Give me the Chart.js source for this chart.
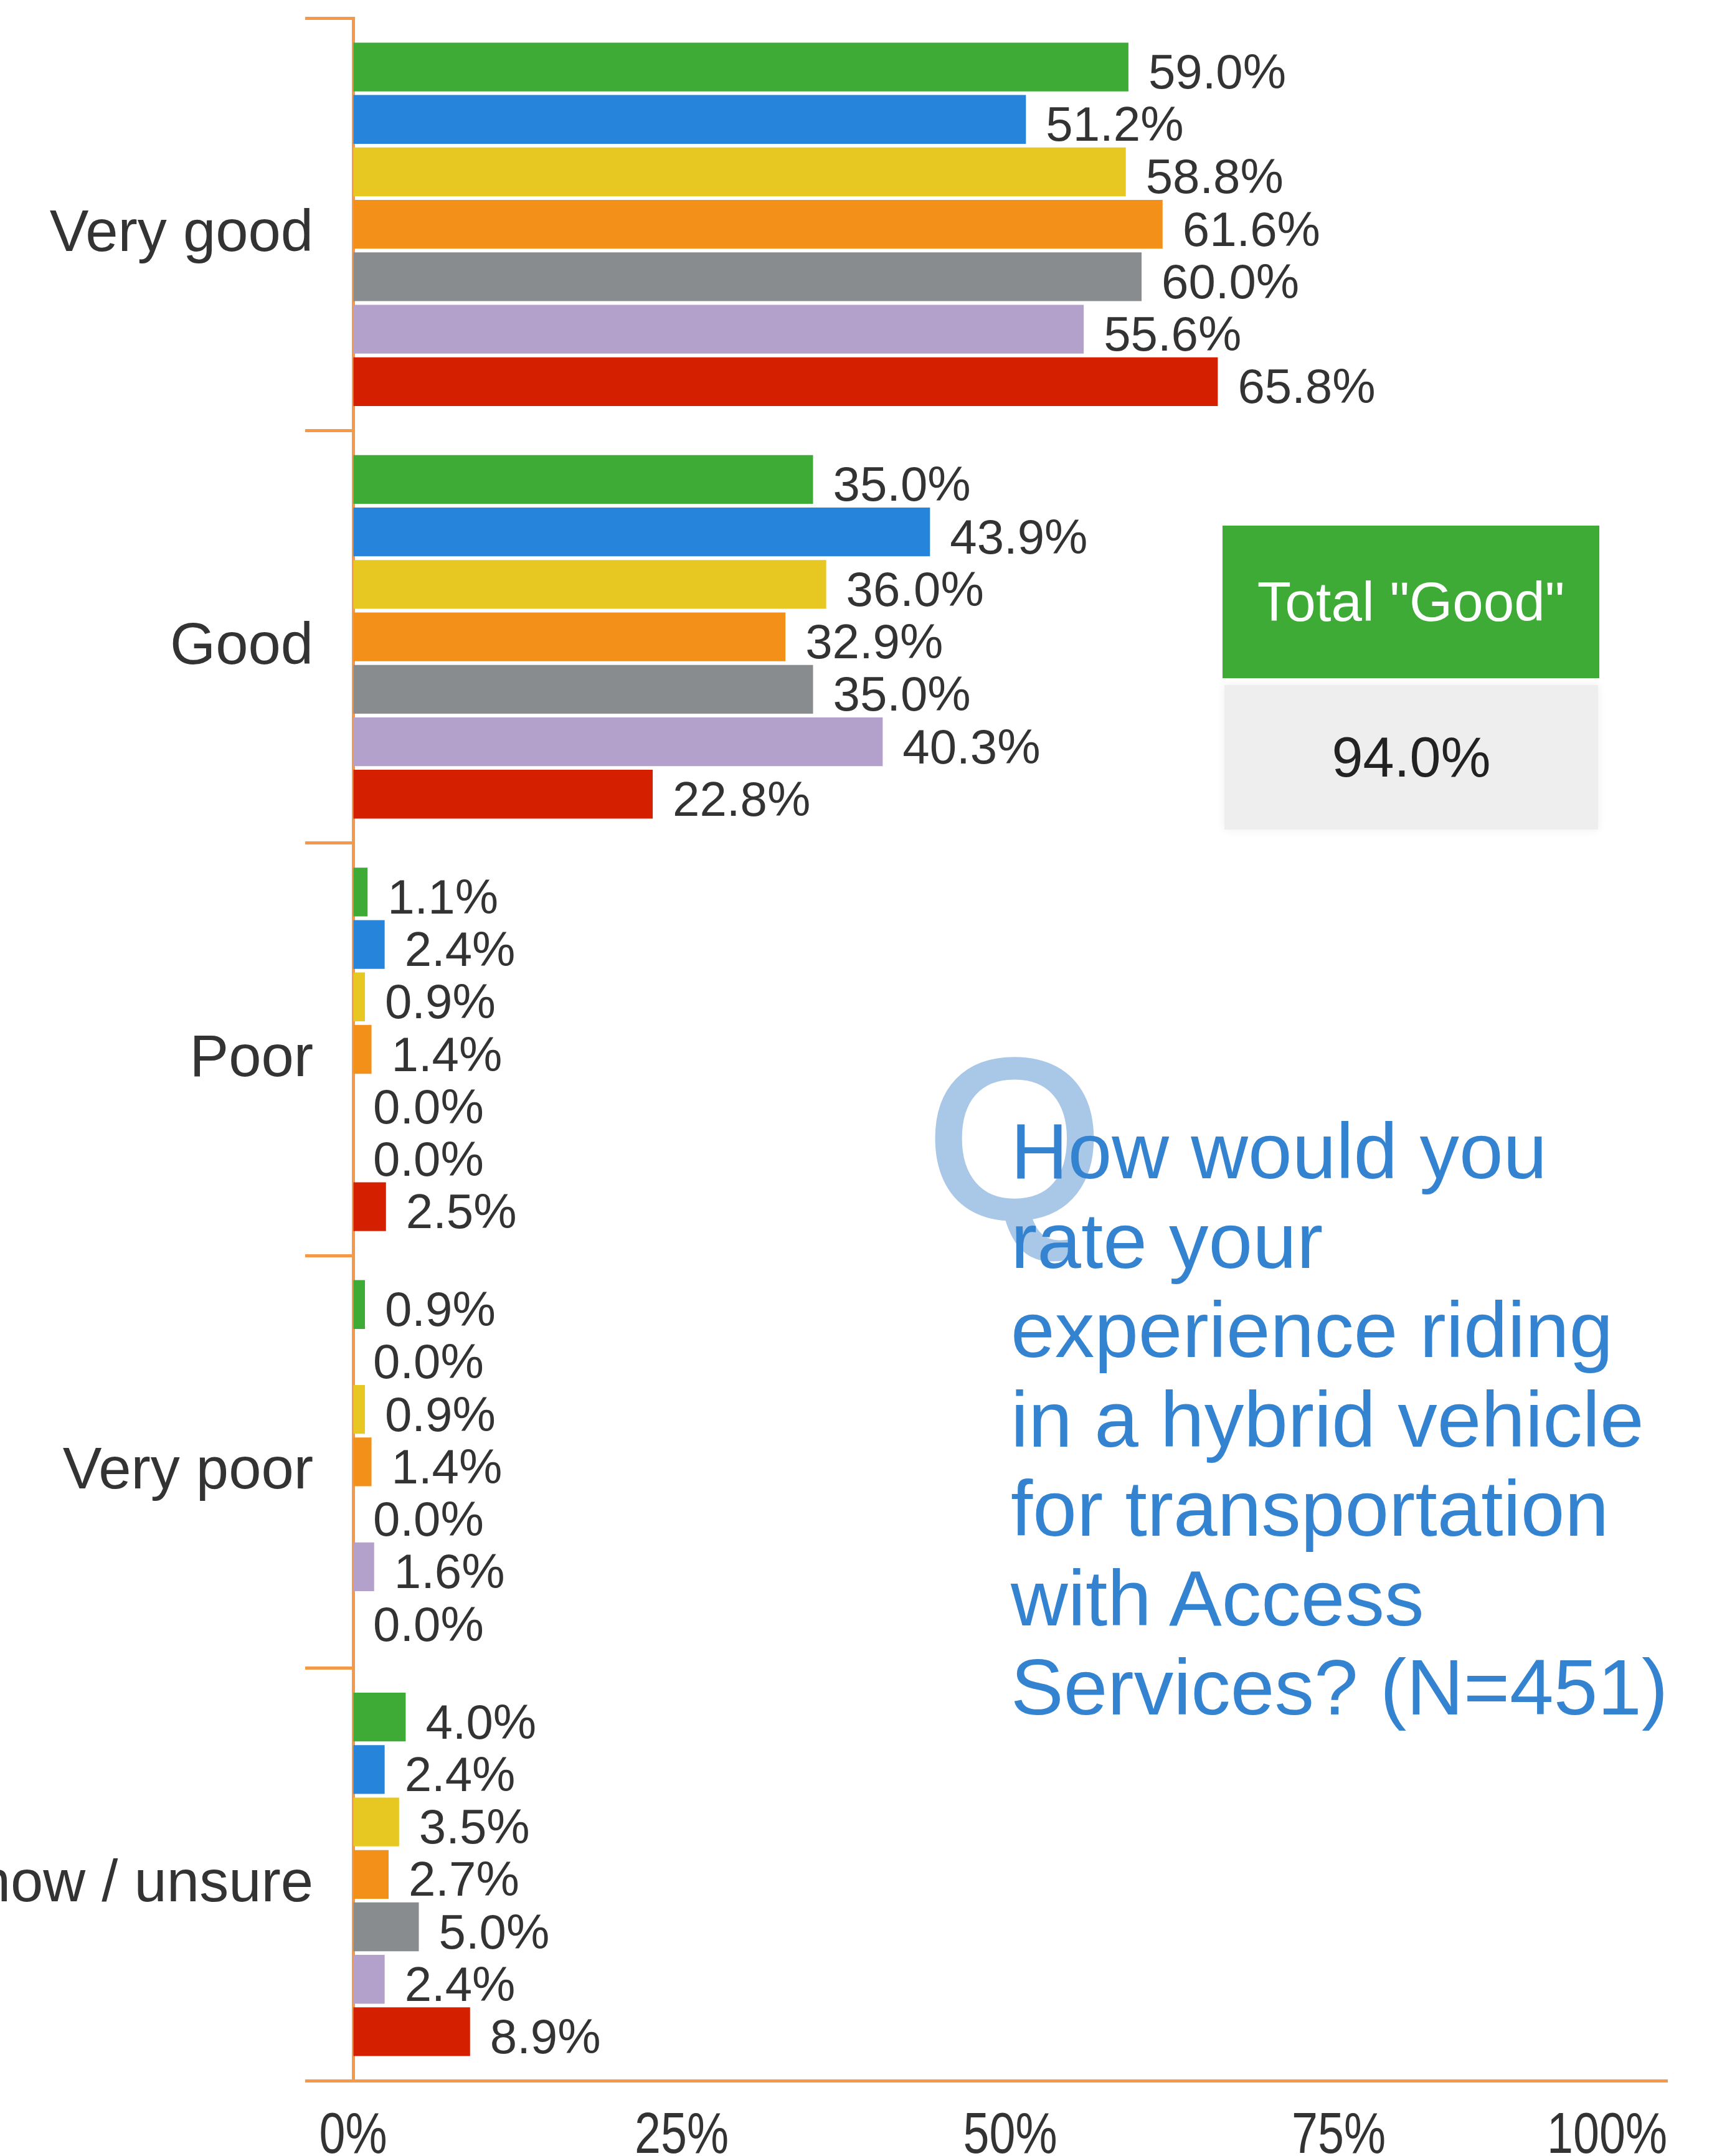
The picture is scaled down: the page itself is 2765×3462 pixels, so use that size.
<!DOCTYPE html>
<html>
<head>
<meta charset="utf-8">
<title>Hybrid vehicle rating</title>
<script src="https://cdn.jsdelivr.net/npm/chart.js@4.4.1/dist/chart.umd.min.js"></script>
<style>
    html, body { margin: 0; padding: 0; background: #fff; }
    #wrap { position: relative; width: 2765px; height: 3462px; overflow: hidden; font-family: "Liberation Sans", Arial, sans-serif; }
    #chart { position: absolute; left: 0; top: 0; }
    .q-mark { position: absolute; left: 1489px; top: 1648px; font-size: 360px; line-height: 1; color: #a9c8e8;
              -webkit-text-stroke: 9px #a9c8e8; }
    .question { position: absolute; left: 1623px; top: 1777px; font-size: 127px; line-height: 143.5px; color: #3383d0; white-space: pre; }
    .total-head { position: absolute; left: 1963px; top: 844px; width: 605px; height: 245px; background: #3dab36;
                  color: #fff; font-size: 89px; line-height: 245px; text-align: center; }
    .total-value { position: absolute; left: 1966px; top: 1100px; width: 600px; height: 232px; background: #eeeeee;
                   box-shadow: 0 0 14px rgba(0,0,0,0.07); color: #222; font-size: 90px; line-height: 232px; text-align: center; }
</style>
</head>
<body>
<div id="wrap">
    <canvas id="chart" width="2765" height="3462"></canvas>
    <div class="total-head" id="total-head"></div>
    <div class="total-value" id="total-value"></div>
    <div class="q-mark">Q</div>
    <div class="question" id="question"></div>
</div>
<script>
// Categorie e valori (%)
const categories = ['Very good', 'Good', 'Poor', 'Very poor', "Don't know / unsure"];
const seriesNames = ['Group 1', 'Group 2', 'Group 3', 'Group 4', 'Group 5', 'Group 6', 'Group 7'];
const series1 = [59.0, 35.0, 1.1, 0.9, 4.0];
const series2 = [51.2, 43.9, 2.4, 0.0, 2.4];
const series3 = [58.8, 36.0, 0.9, 0.9, 3.5];
const series4 = [61.6, 32.9, 1.4, 1.4, 2.7];
const series5 = [60.0, 35.0, 0.0, 0.0, 5.0];
const series6 = [55.6, 40.3, 0.0, 1.6, 2.4];
const series7 = [65.8, 22.8, 2.5, 0.0, 8.9];
const seriesColors = ['#3dab36', '#2784db', '#e7c823', '#f39019', '#898c8f', '#b3a1cc', '#d42000'];
const xTicks = [0, 25, 50, 75, 100];

const totalLabel = 'Total "Good"';
const totalValue = '94.0%';
const questionLines = [
    'How would you',
    'rate your',
    'experience riding',
    'in a hybrid vehicle',
    'for transportation',
    'with Access',
    'Services? (N=451)'
];

const AXIS_COLOR = '#f4994a';
const TEXT_COLOR = '#333333';
const FONT = '"Liberation Sans", Arial, sans-serif';

// Etichette dei valori a destra delle barre (disegnate sotto le barre)
const valueLabels = {
    id: 'valueLabels',
    beforeDatasetsDraw(chart) {
        const ctx = chart.ctx;
        ctx.save();
        ctx.font = '78px ' + FONT;
        ctx.fillStyle = TEXT_COLOR;
        ctx.textAlign = 'left';
        ctx.textBaseline = 'middle';
        chart.data.datasets.forEach((ds, i) => {
            chart.getDatasetMeta(i).data.forEach((bar, j) => {
                ctx.fillText(ds.data[j].toFixed(1) + '%', bar.x + 32, bar.y + 13);
            });
        });
        ctx.restore();
    }
};

// Etichette asse x: strette, l'ultima allineata a destra come nell'originale
const xTickLabels = {
    id: 'xTickLabels',
    afterDraw(chart) {
        const scale = chart.scales.x;
        const ctx = chart.ctx;
        ctx.save();
        ctx.font = '92px ' + FONT;
        ctx.fillStyle = TEXT_COLOR;
        ctx.textBaseline = 'alphabetic';
        scale.ticks.forEach((t, i) => {
            ctx.save();
            ctx.translate(scale.getPixelForValue(t.value), scale.top + 116);
            ctx.scale(0.82, 1);
            ctx.textAlign = i === scale.ticks.length - 1 ? 'right' : 'center';
            ctx.fillText(t.value + '%', 0, 0);
            ctx.restore();
        });
        ctx.restore();
    }
};

const allSeries = [series1, series2, series3, series4, series5, series6, series7];

new Chart(document.getElementById('chart').getContext('2d'), {
    type: 'bar',
    data: {
        labels: categories,
        datasets: allSeries.map((values, i) => ({
            label: seriesNames[i],
            data: values,
            backgroundColor: seriesColors[i],
            borderWidth: 0,
            categoryPercentage: 0.89,
            barPercentage: 0.93
        }))
    },
    options: {
        indexAxis: 'y',
        responsive: false,
        animation: false,
        devicePixelRatio: 1,
        layout: { padding: { top: 29, right: 88, left: 0, bottom: 0 } },
        plugins: {
            legend: { display: false },
            tooltip: { enabled: false }
        },
        scales: {
            x: {
                min: 0,
                max: 100,
                afterBuildTicks(scale) {
                    scale.ticks = xTicks.map(v => ({ value: v }));
                },
                ticks: { display: false },
                grid: { display: true, drawOnChartArea: false, drawTicks: false },
                border: { color: AXIS_COLOR, width: 5 },
                afterFit(scale) {
                    scale.height = 121;
                    scale.paddingLeft = 0;
                    scale.paddingRight = 0;
                }
            },
            y: {
                ticks: {
                    font: { size: 94, family: FONT },
                    color: TEXT_COLOR,
                    padding: -13,
                    labelOffset: 17,
                    autoSkip: false
                },
                grid: {
                    drawOnChartArea: false,
                    color: AXIS_COLOR,
                    lineWidth: 5,
                    tickLength: 77
                },
                border: { color: AXIS_COLOR, width: 5 },
                afterFit(scale) {
                    scale.width = 567;
                    scale.paddingTop = 0;
                    scale.paddingBottom = 0;
                }
            }
        }
    },
    plugins: [valueLabels, xTickLabels]
});

document.getElementById('total-head').textContent = totalLabel;
document.getElementById('total-value').textContent = totalValue;
document.getElementById('question').textContent = questionLines.join('\n');
</script>
</body>
</html>
